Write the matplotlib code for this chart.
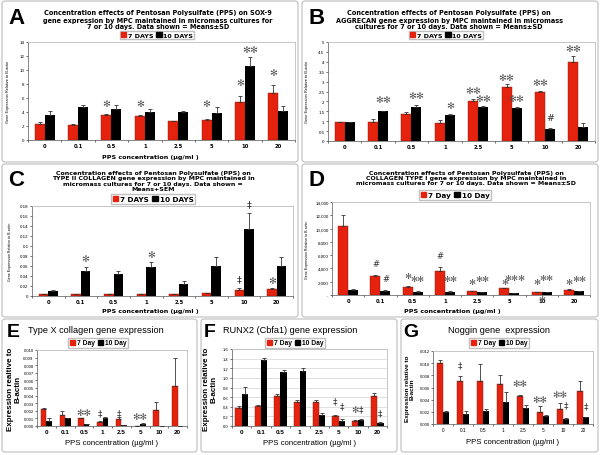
import numpy as np
import matplotlib
matplotlib.use("Agg")
import matplotlib.pyplot as plt
from matplotlib.patches import FancyBboxPatch, Patch

W, H = 600, 456
RED = "#e4220e"
STAR = "\u273B"

cats = ["0", "0.1", "0.5", "1", "2.5", "5", "10", "20"]

# A: SOX-9
sox9_7 = [2.3, 2.2, 3.55, 3.45, 2.7, 2.85, 5.5, 6.7]
sox9_7_err = [0.3, 0.1, 0.2, 0.1, 0.05, 0.15, 0.8, 1.2]
sox9_10 = [3.6, 4.7, 4.4, 4.05, 4.05, 3.85, 10.6, 4.1]
sox9_10_err = [0.6, 0.3, 0.6, 0.4, 0.1, 0.85, 1.2, 0.75]
sox9_sig = [(2, 0, 5.2, "*"), (3, 0, 5.2, "*"), (5, 0, 5.2, "*"),
            (6, 0, 8.2, "*"), (6, 1, 12.9, "**"), (7, 0, 9.6, "*")]

# B: aggrecan
agg_7 = [0.95, 0.97, 1.36, 0.93, 2.03, 2.71, 2.46, 3.98]
agg_7_err = [0.02, 0.12, 0.08, 0.15, 0.1, 0.15, 0.07, 0.32]
agg_10 = [0.95, 1.5, 1.7, 1.32, 1.7, 1.69, 0.61, 0.73]
agg_10_err = [0.02, 0.03, 0.12, 0.05, 0.05, 0.05, 0.06, 0.2]
agg_sig = [(1, 1, 2.12, "**"), (2, 1, 2.32, "**"), (3, 1, 1.78, "*"),
           (4, 0, 2.54, "**"), (4, 1, 2.17, "**"), (5, 0, 3.22, "**"),
           (5, 1, 2.17, "**"), (6, 0, 2.97, "**"), (6, 1, 1.19, "#"),
           (7, 0, 4.66, "**")]

# C: type II collagen
col2_7 = [0.004, 0.004, 0.004, 0.004, 0.004, 0.006, 0.012, 0.015]
col2_7_err = [0.0005, 0.0005, 0.0005, 0.0005, 0.0005, 0.001, 0.004, 0.001]
col2_10 = [0.011, 0.051, 0.044, 0.058, 0.025, 0.061, 0.134, 0.061]
col2_10_err = [0.001, 0.007, 0.006, 0.01, 0.005, 0.017, 0.032, 0.017]
col2_sig = [(1, 1, 0.075, "*"), (3, 1, 0.083, "*"), (6, 0, 0.035, "\u2021"),
            (6, 1, 0.185, "\u2021"), (7, 0, 0.031, "*")]

# D: type I collagen
col1_7 = [10400, 2900, 1250, 3650, 550, 1000, 400, 800]
col1_7_err = [1650, 100, 50, 500, 30, 50, 30, 40]
col1_10 = [800, 650, 500, 500, 400, 300, 450, 600]
col1_10_err = [30, 30, 30, 30, 30, 30, 30, 30]
col1_sig = [(1, 0, 4800, "#"), (1, 1, 2530, "#"), (2, 0, 2980, "*"),
            (2, 1, 2530, "**"), (3, 0, 5900, "#"), (3, 1, 2530, "**"),
            (4, 0, 2070, "*"), (4, 1, 2530, "**"), (5, 0, 2070, "*"),
            (5, 1, 2680, "***"), (6, 0, 2070, "*"), (6, 1, 2680, "**"),
            (6, 0.5, -500, "*"), (7, 0, 2070, "*"), (7, 1, 2530, "**")]

# E: type X collagen
col10_7 = [0.0023, 0.0014, 0.0010, 0.0005, 0.0009, 0.00005, 0.0021, 0.0052]
col10_7_err = [0.0001, 0.0006, 0.00005, 0.0002, 0.0003, 0.0, 0.0011, 0.0038]
col10_10 = [0.0007, 0.0010, 0.0002, 0.0010, 0.00015, 0.0003, 0.0, 0.00005]
col10_10_err = [0.0003, 0.0001, 0.00003, 0.0002, 0.00003, 0.0001, 0.0, 0.0]
col10_sig = [(2, 0.5, 0.0018, "**"), (3, 0, 0.0018, "\u2021"),
             (4, 0, 0.0018, "\u2021"), (5, 0.5, 0.0013, "**")]

# F: RUNX2
runx_7 = [0.37, 0.41, 0.62, 0.50, 0.49, 0.21, 0.11, 0.62]
runx_7_err = [0.05, 0.02, 0.04, 0.04, 0.04, 0.01, 0.01, 0.07]
runx_10 = [0.67, 1.37, 1.13, 1.15, 0.22, 0.11, 0.12, 0.06]
runx_10_err = [0.15, 0.05, 0.03, 0.06, 0.04, 0.04, 0.03, 0.02]
runx_sig = [(5, 0, 0.53, "\u2021"), (5, 1, 0.42, "\u2021"), (6, 0, 0.35, "*"),
            (6, 1, 0.35, "\u2021"), (7, 1, 0.28, "\u2021")]

# G: noggin
nog_7 = [0.0101, 0.0070, 0.0070, 0.0065, 0.0046, 0.0019, 0.0024, 0.0055]
nog_7_err = [0.0004, 0.0009, 0.0028, 0.0016, 0.0002, 0.0010, 0.0011, 0.0015]
nog_10 = [0.0020, 0.0017, 0.0021, 0.0036, 0.0027, 0.0013, 0.0009, 0.0011]
nog_10_err = [0.0002, 0.0005, 0.0004, 0.0016, 0.0005, 0.0001, 0.0001, 0.0]
nog_sig = [(1, 0, 0.0098, "\u2021"), (4, 0, 0.0066, "**"), (5, 0, 0.0040, "**"),
           (6, 0, 0.0048, "**"), (6, 1, 0.0032, "\u2021"), (7, 1, 0.0030, "\u2021")]

fig = plt.figure(figsize=(6, 4.56), dpi=100)
fig.patch.set_facecolor("white")
VERD = ["DejaVu Sans"]
ARIAL = ["Liberation Sans", "DejaVu Sans"]


def fx(x):
    return x / W


def fy(y):
    return 1 - y / H


def frame(x0, y0, x1, y1):
    fig.patches.append(FancyBboxPatch((fx(x0), fy(y1)), (x1 - x0) / W, (y1 - y0) / H,
                                      boxstyle="round,pad=0,rounding_size=0.006",
                                      transform=fig.transFigure, fc="white",
                                      ec="#c4c4c4", lw=0.9, zorder=-5))


def ptext(x, y, s, **kw):
    fig.text(fx(x), fy(y), s, ha=kw.pop("ha", "center"), va=kw.pop("va", "center"), **kw)


def panel(box, v7, e7, v10, e10, sig, yticks, ylabels, width=0.3, star_fs=6.8,
          xfs=3.8, yfs=3.2, xfam=VERD, xweight="bold", grid=False):
    l, t, r, b = box
    ax = fig.add_axes([fx(l), fy(b), (r - l) / W, (b - t) / H])
    ax.patch.set_alpha(0)
    x = np.arange(len(cats))
    ax.bar(x - width / 2, v7, width, color=RED, edgecolor="#8a1505", lw=0.3, zorder=2)
    ax.bar(x + width / 2, v10, width, color="black", zorder=2)
    z = np.zeros(len(cats))
    ax.errorbar(x - width / 2, v7, yerr=[z, e7], fmt="none", ecolor="#333333",
                elinewidth=0.6, capsize=1.2, capthick=0.6, zorder=3)
    ax.errorbar(x + width / 2, v10, yerr=[z, e10], fmt="none", ecolor="#333333",
                elinewidth=0.6, capsize=1.2, capthick=0.6, zorder=3)
    for i, s, yv, txt in sig:
        xp = i + (s - 0.5) * width
        if "*" in txt:
            ax.text(xp, yv, STAR * len(txt), ha="center", va="center",
                    fontsize=star_fs, color="#505050", clip_on=False,
                    family=VERD, zorder=4)
        else:
            ax.text(xp, yv, txt, ha="center", va="center", fontsize=star_fs,
                    color="#303030", clip_on=False, family=VERD, zorder=4)
    ax.set_xlim(-0.5, len(cats) - 0.5)
    ax.set_ylim(yticks[0], yticks[-1])
    ax.set_yticks(yticks)
    ax.set_yticklabels(ylabels, fontsize=yfs, family=ARIAL)
    ax.set_xticks(x)
    ax.set_xticklabels(cats, fontsize=xfs, fontweight=xweight, family=xfam)
    ax.set_xticks(np.arange(len(cats) + 1) - 0.5, minor=True)
    ax.tick_params(axis="x", which="major", length=0, pad=2.5)
    ax.tick_params(axis="x", which="minor", length=1.5, width=0.4)
    ax.tick_params(axis="y", length=1.5, width=0.4, pad=1)
    for sp in ["top", "right"]:
        ax.spines[sp].set_color("#bdbdbd")
        ax.spines[sp].set_linewidth(0.6)
    for sp in ["left", "bottom"]:
        ax.spines[sp].set_color("#555555")
        ax.spines[sp].set_linewidth(0.5)
    if grid:
        ax.yaxis.grid(True, color="#c8c8c8", lw=0.4, zorder=0)
        ax.set_axisbelow(True)
    return ax


def legend(cx, cy, labels, fs, bold, fam):
    hs = [Patch(color=RED), Patch(color="black")]
    fig.legend(hs, labels, loc="center", bbox_to_anchor=(fx(cx), fy(cy)), ncol=2,
               prop={"size": fs, "weight": "bold" if bold else "normal", "family": fam},
               frameon=True, fancybox=False, edgecolor="#c0c0c0", framealpha=1,
               handlelength=0.8, handleheight=0.8, handletextpad=0.2,
               columnspacing=0.5, borderpad=0.25, borderaxespad=0)


# panel frames
frame(2, 2, 298, 163)
frame(302, 2, 598, 163)
frame(2, 165, 298, 318)
frame(302, 165, 598, 318)
frame(2, 320, 197, 453)
frame(201, 320, 397, 453)
frame(401, 320, 598, 453)

ylab_big = "Gene Expression Relative to B-actin"
xlab = "PPS concentration (\u00b5g/ml )"

# ---- A
panel((28, 43, 295, 141), sox9_7, sox9_7_err, sox9_10, sox9_10_err, sox9_sig,
      list(range(0, 15, 2)), [str(v) for v in range(0, 15, 2)])
ptext(158, 20.5, "Concentration effects of Pentosan Polysulfate (PPS) on SOX-9\n"
      "gene expression by MPC maintained in micromass cultures for\n"
      "7 or 10 days. Data shown = Means\u00b1SD", fontsize=4.7, fontweight="bold",
      family=VERD, linespacing=1.2)
legend(157, 36, ["7 DAYS", "10 DAYS"], 4.6, True, VERD)
ptext(8, 92, ylab_big, rotation=90, fontsize=2.8, family=ARIAL)
ptext(150, 157, xlab, fontsize=4.6, fontweight="bold", family=VERD)
ptext(8, 18, "A", ha="left", fontsize=16, fontweight="bold", family=ARIAL)

# ---- B
bt = [i * 0.5 for i in range(11)]
panel((328, 43, 595, 142), agg_7, agg_7_err, agg_10, agg_10_err, agg_sig,
      bt, ["0", "0.5", "1", "1.5", "2", "2.5", "3", "3.5", "4", "4.5", "5"])
ptext(449, 20.5, "Concentration effects of Pentosan Polysulfate (PPS) on\n"
      "AGGRECAN gene expression by MPC maintained in micromass\n"
      "cultures for 7 or 10 days. Data shown = Means\u00b1SD", fontsize=4.7,
      fontweight="bold", family=VERD, linespacing=1.2)
legend(446, 36, ["7 DAYS", "10 DAYS"], 4.6, True, VERD)
ptext(307, 92, ylab_big, rotation=90, fontsize=2.8, family=ARIAL)
ptext(308, 18, "B", ha="left", fontsize=16, fontweight="bold", family=ARIAL)

# ---- C
ct = [i * 0.02 for i in range(10)]
panel((32, 207, 293, 297), col2_7, col2_7_err, col2_10, col2_10_err, col2_sig,
      ct, ["0", "0.02", "0.04", "0.06", "0.08", "0.1", "0.12", "0.14", "0.16", "0.18"],
      width=0.29)
ptext(153, 181.5, "Concentration effects of Pentosan Polysulfate (PPS) on\n"
      "TYPE II COLLAGEN gene expression by MPC maintained in\n"
      "micromass cultures for 7 or 10 days. Data shown =\nMeans+SEM",
      fontsize=4.5, fontweight="bold", family=VERD, linespacing=1.05)
legend(153, 200, ["7 DAYS", "10 DAYS"], 5.2, True, VERD)
ptext(10, 252, ylab_big, rotation=90, fontsize=2.6, family=ARIAL)
ptext(150, 312, xlab, fontsize=4.6, fontweight="bold", family=VERD)
ptext(8, 181, "C", ha="left", fontsize=16, fontweight="bold", family=ARIAL)

# ---- D
dt = list(range(0, 14001, 2000))
panel((332, 203, 590, 296), col1_7, col1_7_err, col1_10, col1_10_err, col1_sig,
      dt, ["-"] + ["{:,}".format(v) for v in dt[1:]], width=0.31, star_fs=6.0)
ptext(466, 178.5, "Concentration effects of Pentosan Polysulfate (PPS) on\n"
      "COLLAGEN TYPE I gene expression by MPC maintained in\n"
      "micromass cultures for 7 or 10 days. Data shown = Means\u00b1SD",
      fontsize=4.5, fontweight="bold", family=VERD, linespacing=1.05)
legend(455, 196, ["7 Day", "10 Day"], 5.2, True, VERD)
ptext(307, 250, ylab_big, rotation=90, fontsize=2.6, family=ARIAL)
ptext(452, 312, xlab, fontsize=4.6, fontweight="bold", family=VERD)
ptext(308, 181, "D", ha="left", fontsize=16, fontweight="bold", family=ARIAL)

# ---- E
et = [i * 0.001 for i in range(11)]
panel((37, 351, 187, 427), col10_7, col10_7_err, col10_10, col10_10_err, col10_sig,
      et, ["{:.3f}".format(v) for v in et], width=0.29, star_fs=6.5, xfs=4.6,
      yfs=3.0, xfam=ARIAL)
ptext(96, 331, "Type X collagen gene expression", fontsize=6.6, family=ARIAL)
legend(98, 344, ["7 Day", "10 Day"], 4.8, True, ARIAL)
ptext(14, 389, "Expression realtive to\nB-actin", rotation=90, fontsize=5.8,
      fontweight="bold", family=ARIAL, linespacing=1.0)
ptext(112, 444, xlab, fontsize=5.6, family=ARIAL)
ptext(7, 333, "E", ha="left", fontsize=14, fontweight="bold", family=ARIAL)

# ---- F
ft = [i * 0.2 for i in range(9)]
panel((232, 350, 387, 427), runx_7, runx_7_err, runx_10, runx_10_err, runx_sig,
      ft, ["{:.1f}".format(v) for v in ft], width=0.32, star_fs=6.5, xfs=4.6,
      yfs=3.0, xfam=ARIAL, grid=True)
ptext(290, 331, "RUNX2 (Cbfa1) gene expression", fontsize=6.6, family=ARIAL)
legend(295, 344, ["7 Day", "10 Day"], 4.8, True, ARIAL)
ptext(210, 389, "Expression relative to\nB-actin", rotation=90, fontsize=5.8,
      fontweight="bold", family=ARIAL, linespacing=1.0)
ptext(310, 444, xlab, fontsize=5.6, family=ARIAL)
ptext(204, 333, "F", ha="left", fontsize=14, fontweight="bold", family=ARIAL)

# ---- G
gt = [i * 0.002 for i in range(7)]
panel((433, 352, 593, 425), nog_7, nog_7_err, nog_10, nog_10_err, nog_sig,
      gt, ["{:.3f}".format(v) for v in gt], width=0.3, star_fs=6.5, xfs=3.4,
      yfs=3.0, xfam=ARIAL, xweight="normal")
ptext(499, 331, "Noggin gene  expression", fontsize=6.6, family=ARIAL)
legend(499, 344, ["7 Day", "10 Day"], 4.8, True, ARIAL)
ptext(410, 389, "Expression relative to\nB-actin", rotation=90, fontsize=4.6,
      fontweight="bold", family=ARIAL, linespacing=1.0)
ptext(513, 443, xlab, fontsize=5.6, family=ARIAL)
ptext(403, 333, "G", ha="left", fontsize=14, fontweight="bold", family=ARIAL)

fig.savefig("out.png", dpi=100)
